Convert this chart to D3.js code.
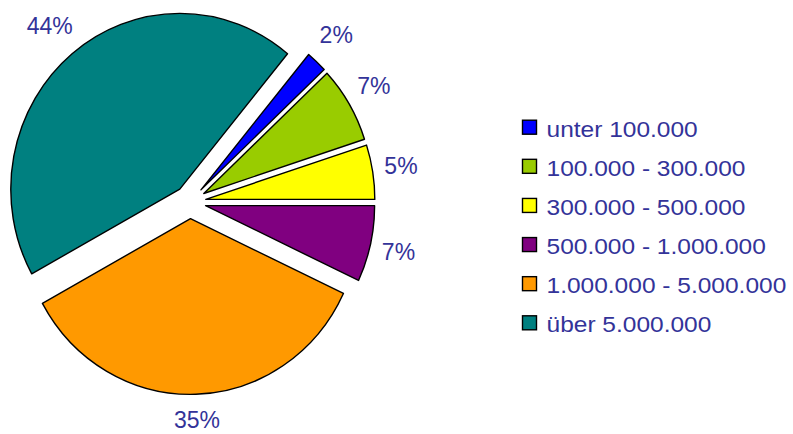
<!DOCTYPE html>
<html>
<head>
<meta charset="utf-8">
<script src="https://cdn.jsdelivr.net/npm/d3@7"></script>
<style>
  body { margin: 0; background: #fff; }
  svg { display: block; }
  text { font-family: "Liberation Sans", Arial, sans-serif; fill: #333399; }
</style>
</head>
<body>
<svg width="793" height="434"></svg>
<script>
// Anteile der Größenklassen (im Uhrzeigersinn, ab "unter 100.000")
var categories = ["unter 100.000", "100.000 - 300.000", "300.000 - 500.000",
                  "500.000 - 1.000.000", "1.000.000 - 5.000.000", "über 5.000.000"];
var shares = [2, 7, 5, 7, 35, 44];
var colors = ["#0000ff", "#99cc00", "#ffff00", "#800080", "#ff9900", "#008080"];

var width = 793;
var height = 434;
var cx = 190, cy = 202;
var radius = 169;
var squash = 1.04;     // Torte ist leicht höher als breit
var explode = 16;

var svg = d3.select("svg")
    .attr("width", width)
    .attr("height", height);

// gelb/lila Grenze liegt genau bei 3 Uhr
var start = Math.PI / 2 - d3.sum(shares.slice(0, 3)) / 100 * 2 * Math.PI;

var pie = d3.pie()
    .sort(null)
    .value(d => d)
    .startAngle(start)
    .endAngle(start + 2 * Math.PI);

var arc = d3.arc()
    .innerRadius(0)
    .outerRadius(radius);

var arcs = pie(shares);
var mid = d => (d.startAngle + d.endAngle) / 2;

var chart = svg.append("g")
    .attr("transform", "translate(" + cx + "," + cy + ")");

chart.selectAll("path")
    .data(arcs)
    .enter()
    .append("path")
        .attr("d", arc)
        .attr("transform", d => "translate(" + (explode * Math.sin(mid(d))) + "," +
              (-explode * Math.cos(mid(d)) * squash) + ") scale(1," + squash + ")")
        .attr("fill", (d, i) => colors[i])
        .attr("stroke", "#000")
        .attr("stroke-width", 1.4)
        .attr("stroke-linejoin", "round")
        .attr("vector-effect", "non-scaling-stroke");

//Prozent-Beschriftung außen
var labelFont = 23;
var capH = 0.716 * labelFont;

chart.selectAll(".pct")
    .data(arcs)
    .enter()
    .append("text")
        .attr("class", "pct")
        .style("font-size", labelFont + "px")
        .style("text-anchor", "middle")
        .text(d => d.data + "%")
        .each(function(d) {
            var a = mid(d);
            var s = Math.sin(a), c = Math.cos(a);
            var w = this.getComputedTextLength();
            var x = s * (197 + w / 2);
            var y = Math.min(-229 * c, height - 14 - cy); // im Bild halten
            d3.select(this)
                .attr("x", x)
                .attr("y", y + capH / 2);
        });

//Legende
var legendFont = 21.5;
var rowY = d3.scalePoint()
    .domain(categories)
    .range([136.7, 332.3]);

var legend = svg.append("g")
    .selectAll("g")
    .data(categories)
    .enter()
    .append("g")
        .attr("transform", d => "translate(0," + rowY(d) + ")");

legend.append("rect")
    .attr("x", 522.5)
    .attr("y", -16.5)
    .attr("width", 14)
    .attr("height", 14)
    .attr("fill", (d, i) => colors[i])
    .attr("stroke", "#000")
    .attr("stroke-width", 1.4);

legend.append("text")
    .attr("transform", "translate(546.5,0) scale(1.14,1)")
    .style("font-size", legendFont + "px")
    .text(d => d);
</script>
</body>
</html>
